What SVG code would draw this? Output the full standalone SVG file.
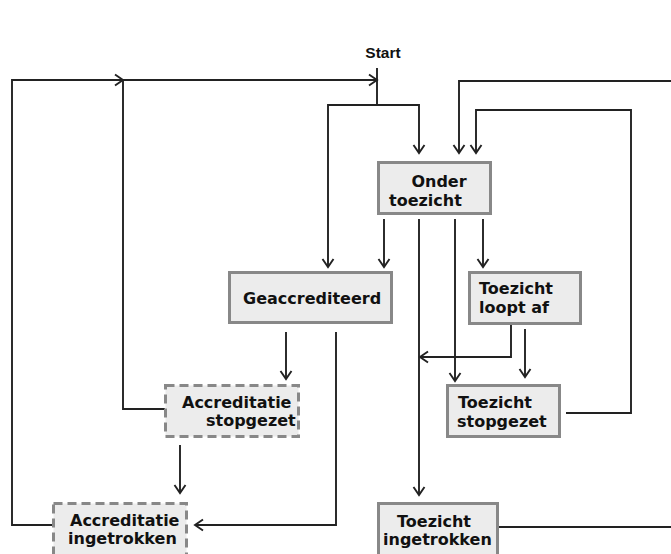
<svg xmlns="http://www.w3.org/2000/svg" width="671" height="554" viewBox="0 0 671 554">
<defs>
<marker id="arr" markerUnits="userSpaceOnUse" markerWidth="12" markerHeight="14" viewBox="0 0 12 14" refX="10" refY="7" orient="auto">
<path d="M2,1.5 L10,7 L2,12.5" fill="none" stroke="#222" stroke-width="1.9"/>
</marker>
</defs>
<style>
.box{fill:#ececec;stroke:#888;stroke-width:3}
.dash{fill:#ececec;stroke:#888;stroke-width:3;stroke-dasharray:9 5}
.lbl{font-family:"DejaVu Sans",Verdana,sans-serif;font-weight:bold;font-size:16px;fill:#111}
.ln{fill:none;stroke:#222;stroke-width:1.9}
.a{marker-end:url(#arr)}
</style>
<rect width="671" height="554" fill="#fff"/>
<g id="start">
<text x="383" y="58" text-anchor="middle" font-family="Liberation Sans, Arial, sans-serif" font-weight="bold" font-size="15.5" fill="#111">Start</text>
</g>
<g id="connectors">
<path class="ln" d="M377,68 V105"/>
<path class="ln a" d="M377,105 H328 V267"/>
<path class="ln a" d="M377,105 H419 V153"/>
<path class="ln a" d="M52,525 H12 V80 H123"/>
<path class="ln" d="M165,409 H123 V80"/>
<path class="ln a" d="M123,80 H377"/>
<path class="ln a" d="M671,81 H459 V153"/>
<path class="ln a" d="M566,413 H631 V110 H476 V153"/>
<path class="ln a" d="M384,219 V267"/>
<path class="ln a" d="M419,219 V495"/>
<path class="ln a" d="M455,219 V381"/>
<path class="ln a" d="M483,219 V267"/>
<path class="ln a" d="M511,325 V357 H420"/>
<path class="ln a" d="M525,329 V377"/>
<path class="ln a" d="M286,332 V379"/>
<path class="ln a" d="M336,332 V525 H195"/>
<path class="ln a" d="M180,445 V493"/>
<path class="ln" d="M499,527 H671"/>
</g>
<g id="onder-toezicht">
<rect class="box" x="378.5" y="162.5" width="112" height="51"/>
<text class="lbl" x="439" y="187" text-anchor="middle">Onder</text>
<text class="lbl" x="389" y="206">toezicht</text>
</g>
<g id="geaccrediteerd">
<rect class="box" x="229.5" y="272.5" width="162" height="50"/>
<text class="lbl" x="243" y="304">Geaccrediteerd</text>
</g>
<g id="toezicht-loopt-af">
<rect class="box" x="469.5" y="272.5" width="111" height="51"/>
<text class="lbl" x="479" y="294">Toezicht</text>
<text class="lbl" x="479" y="313">loopt af</text>
</g>
<g id="toezicht-stopgezet">
<rect class="box" x="447.5" y="385.5" width="112" height="51"/>
<text class="lbl" x="458" y="408">Toezicht</text>
<text class="lbl" x="457" y="427">stopgezet</text>
</g>
<g id="toezicht-ingetrokken">
<rect class="box" x="378.5" y="503.5" width="119" height="54"/>
<text class="lbl" x="397" y="527">Toezicht</text>
<text class="lbl" x="383" y="545">ingetrokken</text>
</g>
<g id="accreditatie-stopgezet">
<rect class="dash" x="165.5" y="385.5" width="133" height="51"/>
<text class="lbl" x="182" y="408">Accreditatie</text>
<text class="lbl" x="206" y="426">stopgezet</text>
</g>
<g id="accreditatie-ingetrokken">
<rect class="dash" x="53.5" y="503.5" width="133" height="54"/>
<text class="lbl" x="70" y="526">Accreditatie</text>
<text class="lbl" x="68" y="544">ingetrokken</text>
</g>
</svg>
